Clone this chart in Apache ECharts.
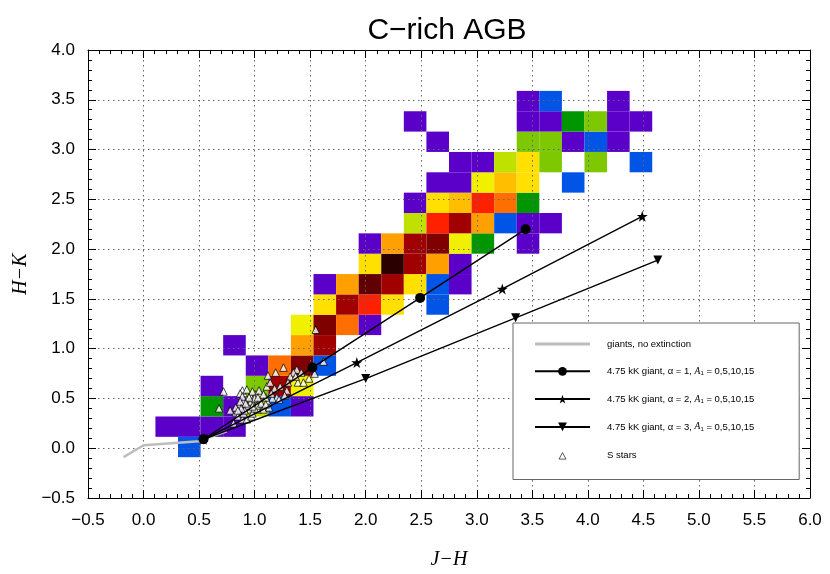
<!DOCTYPE html>
<html>
<head>
<meta charset="utf-8">
<title>C-rich AGB</title>
<script src="https://cdn.jsdelivr.net/npm/echarts@6/dist/echarts.min.js"></script>
<style>
html, body { margin: 0; padding: 0; background: #fff; }
#main { width: 830px; height: 574px; }
</style>
</head>
<body>
<div id="main"></div>
<script>
// 2D histogram bins: J-H along x, H-K along y
var jhStart = 0.107, jhStep = 0.2033;
var hkStart = -0.09, hkStep = 0.2044;

// colour level of each bin, one row per H-K bin from the bottom (0 = empty)
var levels = [
  [0,2],
  [1,1,1,1],
  [0,0,3,1,5,2,1],
  [0,0,1,0,4,12,6],
  [0,0,0,0,1,10,13,2],
  [0,0,0,1,0,0,9,12],
  [0,0,0,0,0,0,6,13,10,1],
  [0,0,0,0,0,0,0,7,12,11,7,0,2],
  [0,0,0,0,0,0,0,1,9,14,12,7,2,1],
  [0,0,0,0,0,0,0,0,0,7,15,12,9,1],
  [0,0,0,0,0,0,0,0,0,1,9,12,13,6,3,0,1],
  [0,0,0,0,0,0,0,0,0,0,0,5,11,12,9,2,1,1],
  [0,0,0,0,0,0,0,0,0,0,0,1,7,8,11,10,3],
  [0,0,0,0,0,0,0,0,0,0,0,0,1,1,6,8,7,0,2],
  [0,0,0,0,0,0,0,0,0,0,0,0,0,1,1,5,7,4,0,4,0,2],
  [0,0,0,0,0,0,0,0,0,0,0,0,1,0,0,0,4,4,1,2,1],
  [0,0,0,0,0,0,0,0,0,0,0,1,0,0,0,0,1,1,3,4,1,1],
  [0,0,0,0,0,0,0,0,0,0,0,0,0,0,0,0,1,2,0,0,1]
];
var palette = ['#ffffff', '#5a00c8', '#0055e6', '#009600', '#7dc800', '#c0e000',
  '#f0f000', '#ffe000', '#ffbe00', '#ffa000', '#ff6e00', '#ff2000',
  '#a00000', '#800000', '#600000', '#2a0000'];

// model tracks (J-H, H-K) for A1 = 0,5,10,15
var giants = [[-0.18,-0.09],[0.0,0.03],[0.25,0.05],[0.5,0.07],[0.54,0.09],[0.75,0.17]];
var alpha1 = [[0.54,0.09],[1.52,0.81],[2.49,1.51],[3.44,2.20]];
var alpha2 = [[0.54,0.09],[1.92,0.86],[3.23,1.60],[4.49,2.33]];
var alpha3 = [[0.54,0.09],[2.00,0.70],[3.35,1.31],[4.63,1.89]];

var sStars = [
  [1.55,1.19],[1.62,0.87],[1.26,0.81],[1.19,0.76],[1.38,0.79],[1.35,0.76],[1.32,0.72],
  [1.12,0.73],[1.39,0.66],[1.44,0.66],[1.49,0.70],[1.54,0.75],[1.23,0.62],[1.18,0.60],
  [1.29,0.58],[1.11,0.62],[0.72,0.57],[0.68,0.40],[0.89,0.58],[0.87,0.55],[1.27,0.53],
  [1.20,0.51],[1.16,0.50],[1.22,0.49],[0.78,0.38],[0.81,0.25],[0.83,0.36],[0.85,0.32],
  [0.89,0.29],[0.93,0.29],[0.97,0.32],[1.03,0.39],[1.08,0.41],[1.12,0.46],[1.10,0.51],
  [1.05,0.54],[1.01,0.54],[0.96,0.53],[0.93,0.49],[0.90,0.47],[0.86,0.43],[0.83,0.41],
  [0.92,0.41],[0.96,0.39],[0.99,0.44],[0.95,0.46],[1.04,0.47],[0.90,0.35],[0.98,0.35],
  [1.02,0.43],[0.89,0.52],[1.08,0.39],[1.13,0.41],[0.93,0.59],[0.98,0.57],[1.04,0.58],
  [1.08,0.54],[0.87,0.47],[1.37,0.72],[1.42,0.76],[0.94,0.43],[0.97,0.47],[1.00,0.40],
  [0.91,0.38],[1.06,0.45],[0.88,0.40],[1.00,0.50],[0.95,0.51],[1.03,0.51],[0.85,0.38],
  [1.10,0.44],[0.98,0.42],[0.92,0.45],[1.15,0.55],[1.14,0.66],[1.30,0.66]
];

var ticksX = { min: -0.5, max: 6.0, step: 0.5 };
var ticksY = { min: -0.5, max: 4.0, step: 0.5 };

var cells = [];
levels.forEach(function (row, j) {
  row.forEach(function (lv, i) {
    if (lv > 0) cells.push([jhStart + (i + 0.5) * jhStep, hkStart + (j + 0.5) * hkStep, lv]);
  });
});

var starPath = 'path://M0,-1L0.2245,-0.309L0.951,-0.309L0.363,0.118L0.588,0.809L0,0.382L-0.588,0.809L-0.363,0.118L-0.951,-0.309L-0.2245,-0.309Z';
var fmt = function (v) { return v.toFixed(1).replace('-', '\u2212'); };
var font = 'Liberation Sans';

function makeAxis(t, pos, main, margin) {
  return {
    type: 'value', position: pos, min: t.min, max: t.max, interval: t.step, z: 2,
    axisLine: { show: true, onZero: false, lineStyle: { color: '#000', width: 1 } },
    axisTick: { show: true, inside: true, length: 8, lineStyle: { color: '#000' } },
    minorTick: { show: true, splitNumber: 5, length: 4, lineStyle: { color: '#000' } },
    axisLabel: { show: main, formatter: fmt, color: '#000', fontSize: 17, fontFamily: font, margin: margin },
    splitLine: { show: main, lineStyle: { color: '#666', width: 1, type: [1.5, 3.5] } }
  };
}

var xBottom = makeAxis(ticksX, 'bottom', true, 14);
xBottom.name = 'J\u2212H';
xBottom.nameLocation = 'middle';
xBottom.nameGap = 52;
xBottom.nameTextStyle = { fontFamily: 'Liberation Serif', fontStyle: 'italic', fontSize: 20, color: '#000' };
var yLeft = makeAxis(ticksY, 'left', true, 13);
yLeft.name = 'H\u2212K';
yLeft.nameLocation = 'middle';
yLeft.nameGap = 53;
yLeft.nameTextStyle = { fontFamily: 'Liberation Serif', fontStyle: 'italic', fontSize: 20, color: '#000' };

var chart = echarts.init(document.getElementById('main'));
chart.setOption({
  animation: false,
  backgroundColor: '#fff',
  title: {
    text: 'C\u2212rich AGB', left: 447, top: 16, textAlign: 'center', padding: 0,
    textStyle: { fontFamily: font, fontSize: 30, fontWeight: 'normal', color: '#000' }
  },
  grid: { left: 88, right: 20, top: 50, bottom: 76, outerBoundsMode: 'none', containLabel: false },
  xAxis: [xBottom, makeAxis(ticksX, 'top', false, 8)],
  yAxis: [yLeft, makeAxis(ticksY, 'right', false, 8)],
  legend: {
    orient: 'vertical', left: 513, top: 323,
    padding: [16, 45, 18, 21],
    itemWidth: 55, itemHeight: 11, itemGap: 17.3,
    backgroundColor: '#fff', borderColor: '#666', borderWidth: 1,
    textStyle: {
      fontFamily: font, fontSize: 9.5, color: '#000', padding: [0, 0, 0, 12],
      rich: {
        i: { fontFamily: 'Liberation Serif', fontStyle: 'italic', fontSize: 9.5 },
        s: { fontSize: 6, padding: [5, 0, 0, 0] }
      }
    },
    formatter: function (name) {
      return name.indexOf('\u03b1') > -1 ? name + ', {i|A}{s|1} = 0,5,10,15' : name;
    },
    data: [
      { name: 'giants, no extinction', icon: 'path://M0,4L55,4L55,7L0,7Z', itemStyle: { color: '#bdbdbd', borderWidth: 0 } },
      { name: '4.75 kK giant, \u03b1 = 1' },
      { name: '4.75 kK giant, \u03b1 = 2' },
      { name: '4.75 kK giant, \u03b1 = 3' },
      { name: 'S stars', icon: 'path://M0,0M55,0M55,11M0,11M24,9L27.5,2.5L31,9Z',
        itemStyle: { color: '#fff', borderColor: '#000', borderWidth: 0.8 } }
    ]
  },
  series: [
    {
      type: 'custom', name: 'counts', z: 1, data: cells,
      renderItem: function (params, api) {
        var x = api.value(0), y = api.value(1);
        var p0 = api.coord([x - jhStep / 2, y + hkStep / 2]);
        var p1 = api.coord([x + jhStep / 2, y - hkStep / 2]);
        return {
          type: 'rect',
          shape: { x: p0[0], y: p0[1], width: p1[0] - p0[0], height: p1[1] - p0[1] },
          style: { fill: palette[api.value(2)] }
        };
      }
    },
    {
      type: 'line', name: 'giants, no extinction', data: giants, z: 3,
      symbol: 'none', color: '#bdbdbd', lineStyle: { color: '#bdbdbd', width: 2.5 }
    },
    {
      type: 'scatter', name: 'S stars', data: sStars, z: 4,
      symbol: 'triangle', symbolSize: 7.5,
      itemStyle: { color: '#fff', borderColor: '#000', borderWidth: 0.9 }
    },
    {
      type: 'line', name: '4.75 kK giant, \u03b1 = 1', data: alpha1, z: 5,
      symbol: 'circle', symbolSize: 10, color: '#000',
      lineStyle: { color: '#000', width: 1.4 }
    },
    {
      type: 'line', name: '4.75 kK giant, \u03b1 = 2', data: alpha2, z: 5,
      symbol: starPath, symbolSize: 11, color: '#000',
      lineStyle: { color: '#000', width: 1.4 }
    },
    {
      type: 'line', name: '4.75 kK giant, \u03b1 = 3', data: alpha3, z: 5,
      symbol: 'triangle', symbolRotate: 180, symbolSize: 9, color: '#000',
      lineStyle: { color: '#000', width: 1.4 }
    }
  ]
});
</script>
</body>
</html>
